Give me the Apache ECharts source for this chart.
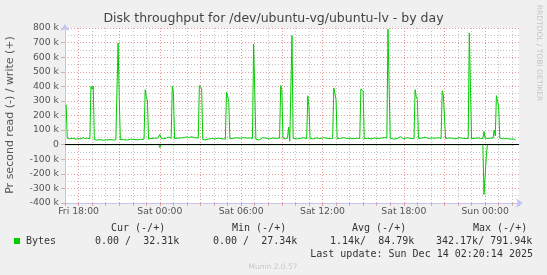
<!DOCTYPE html>
<html><head><meta charset="utf-8">
<script src="https://cdn.jsdelivr.net/npm/echarts@6/dist/echarts.min.js"></script>
<style>html,body{margin:0;padding:0;background:#f0f0f0;}#c{width:547px;height:275px;}</style>
</head><body><div id="c"></div>
<script>
// ---- data (minutes since Fri 18:00, values in k bytes/s) ----
const writeTimes = [-55,-50,-40,-25,-10,0,10,20,30,40,50,55,60,65,70,80,95,110,125,140,155,165,170,175,180,185,200,215,230,245,260,275,290,295,300,305,310,320,335,350,355,360,365,375,390,400,410,415,420,425,440,455,470,480,490,500,515,530,535,540,545,550,560,575,590,605,620,635,650,655,660,665,670,685,700,715,730,745,760,770,775,780,785,800,815,830,845,860,875,890,895,900,905,915,925,930,935,940,945,950,965,980,995,1010,1015,1020,1025,1040,1055,1070,1085,1100,1115,1125,1130,1135,1140,1145,1160,1175,1190,1205,1220,1235,1245,1250,1255,1260,1265,1280,1295,1310,1325,1340,1355,1365,1370,1375,1380,1395,1410,1425,1440,1455,1470,1485,1490,1495,1500,1505,1520,1535,1550,1565,1580,1595,1605,1610,1615,1620,1625,1640,1655,1670,1685,1700,1715,1725,1730,1735,1740,1755,1770,1780,1790,1795,1800,1815,1825,1835,1840,1845,1850,1855,1860,1865,1880,1895,1910,1925,1935];
const writeValuesK = [275,45,40,44,38,42,40,48,42,44,40,400,380,400,35,32,34,30,33,35,32,33,36,697,331,36,34,32,38,36,33,36,38,377,330,300,38,42,45,44,48,70,46,40,46,52,44,400,360,42,45,46,50,53,48,55,48,45,405,395,385,36,32,38,42,40,45,40,38,359,330,297,40,44,47,44,48,45,46,42,690,380,38,32,48,45,40,45,43,45,405,376,45,40,45,121,23,30,748,44,40,42,48,42,335,263,42,40,46,42,48,44,42,42,389,350,309,40,44,48,42,44,40,45,42,382,370,366,40,44,40,46,42,45,48,45,792,400,45,38,42,55,40,48,42,42,377,330,309,42,45,52,42,46,44,48,42,370,340,331,42,46,44,40,48,44,42,42,766,400,42,44,46,42,42,91,45,42,45,45,100,60,336,300,258,45,40,42,38,40,32];
const readTimes = [-55,355,360,365,1790,1795,1805,1810,1935];
const readValuesK = [0,0,-20,0,0,-342,-90,0,0];

const xTickValues = [0,360,720,1080,1440,1800];
const xTickLabels = ['Fri 18:00','Sat 00:00','Sat 06:00','Sat 12:00','Sat 18:00','Sun 00:00'];

const chartTitle = 'Disk throughput for /dev/ubuntu-vg/ubuntu-lv - by day';
const yAxisTitle = 'Pr second read (-) / write (+)';
const sideText = 'RRDTOOL / TOBI OETIKER';
const seriesName = 'Bytes';
const legendHeaders = ['Cur (-/+)','Min (-/+)','Avg (-/+)','Max (-/+)'];
const legendValues = ['0.00 /  32.31k','0.00 /  27.34k','1.14k/  84.79k','342.17k/ 791.94k'];
const lastUpdate = 'Last update: Sun Dec 14 02:20:14 2025';
const footer = 'Munin 2.0.57';

// ---- chart ----
const chart = echarts.init(document.getElementById('c'), null, {renderer: 'canvas'});
const writeData = writeTimes.map((t, i) => [t, writeValuesK[i] * 1000]);
const readData = readTimes.map((t, i) => [t, readValuesK[i] * 1000]);

const GREEN = '#00cc00';
const MAJOR = 'rgba(225,120,120,0.75)';
const MINOR = 'rgba(175,175,175,0.75)';
const AXIS = '#c4c4f4';
const sans = 'DejaVu Sans';
const mono = 'DejaVu Sans Mono';

const headerX = [111, 232, 352, 473];
const valueX = [95, 213, 330, 436];

const graphics = [
  {type: 'text', x: 273.5, y: 18.5, silent: true,
   style: {text: chartTitle, fontFamily: sans, fontSize: 12.5, fill: '#444', align: 'center', verticalAlign: 'middle'}},
  {type: 'text', x: 10.5, y: 115, rotation: Math.PI / 2, silent: true,
   style: {text: yAxisTitle, fontFamily: sans, fontSize: 11, fill: '#555', align: 'center', verticalAlign: 'middle'}},
  {type: 'text', x: 539, y: 53, rotation: -Math.PI / 2, silent: true,
   style: {text: sideText, fontFamily: sans, fontSize: 7.5, fill: '#c4c4c4', align: 'center', verticalAlign: 'middle'}},
  {type: 'rect', shape: {x: 14, y: 238, width: 6, height: 6}, style: {fill: GREEN}, silent: true},
  {type: 'text', x: 26, y: 241.2, silent: true,
   style: {text: seriesName, fontFamily: mono, fontSize: 10, fill: '#333', align: 'left', verticalAlign: 'middle'}},
  {type: 'text', x: 533, y: 254, silent: true,
   style: {text: lastUpdate, fontFamily: mono, fontSize: 10, fill: '#333', align: 'right', verticalAlign: 'middle'}},
  {type: 'text', x: 273, y: 267, silent: true,
   style: {text: footer, fontFamily: sans, fontSize: 7.5, fill: '#c8c8c8', align: 'center', verticalAlign: 'middle'}}
];
legendHeaders.forEach((h, i) => graphics.push({type: 'text', x: headerX[i], y: 228.6, silent: true,
  style: {text: h, fontFamily: mono, fontSize: 10, fill: '#333', align: 'left', verticalAlign: 'middle'}}));
legendValues.forEach((v, i) => graphics.push({type: 'text', x: valueX[i], y: 241.2, silent: true,
  style: {text: v, fontFamily: mono, fontSize: 10, fill: '#333', align: 'left', verticalAlign: 'middle'}}));

chart.setOption({
  animation: false,
  backgroundColor: '#f0f0f0',
  grid: {left: 65, right: 28, top: 28, bottom: 72, show: true, backgroundColor: '#ffffff', borderWidth: 0},
  xAxis: {
    type: 'value', min: -60, max: 1950, interval: 60,
    axisLine: {onZero: false, lineStyle: {color: AXIS, width: 1}, symbol: ['none', 'arrow'], symbolSize: [7, 7], symbolOffset: [0, 4]},
    axisTick: {show: true, length: 3, lineStyle: {color: 'rgba(220,150,150,0.8)'}},
    axisLabel: {
      margin: 4, fontFamily: sans, fontSize: 9.3, color: '#555',
      formatter: v => { const i = xTickValues.indexOf(v); return i >= 0 ? xTickLabels[i] : ''; }
    },
    splitLine: {show: true, showMaxLine: false, lineStyle: {color: [MINOR, MAJOR, MINOR], type: [1, 2], width: 1}}
  },
  yAxis: {
    type: 'value', min: -400000, max: 800000, interval: 100000,
    axisLine: {show: true, onZero: false, lineStyle: {color: AXIS, width: 1}, symbol: ['none', 'arrow'], symbolSize: [7, 7], symbolOffset: [0, 4]},
    axisTick: {show: true, length: 4, lineStyle: {color: 'rgba(220,150,150,0.8)'}},
    axisLabel: {
      margin: 6, fontFamily: sans, fontSize: 9.3, color: '#555',
      formatter: v => v === 0 ? '0' : (v / 1000) + ' k'
    },
    splitLine: {show: true, lineStyle: {color: MAJOR, type: [1, 2], width: 1}},
    minorTick: {show: false, splitNumber: 2},
    minorSplitLine: {show: true, lineStyle: {color: MINOR, type: [1, 2], width: 1}}
  },
  graphic: graphics,
  series: [
    {name: 'write', type: 'line', data: writeData, showSymbol: false, symbol: 'none',
     lineStyle: {color: GREEN, width: 1}, itemStyle: {color: GREEN}, z: 3},
    {name: 'read', type: 'line', data: readData, showSymbol: false, symbol: 'none',
     lineStyle: {color: GREEN, width: 1}, itemStyle: {color: GREEN}, z: 3,
     markLine: {silent: true, symbol: ['none', 'none'], label: {show: false},
       lineStyle: {color: '#000', width: 1, type: 'solid'}, data: [{yAxis: 0}]}}
  ]
});
</script>
</body></html>
